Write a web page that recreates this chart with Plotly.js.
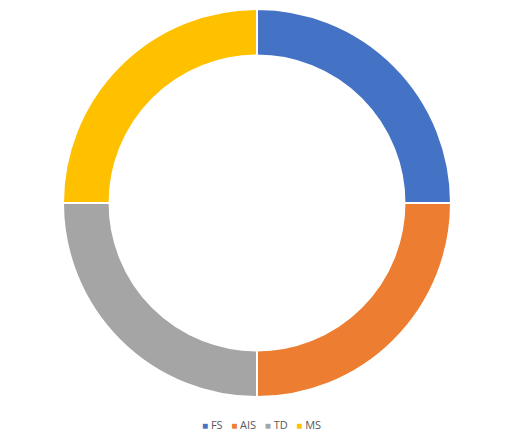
<!DOCTYPE html>
<html>
<head>
<meta charset="utf-8">
<script src="https://cdn.plot.ly/plotly-3.0.1.min.js"></script>
<style>html,body{margin:0;padding:0;background:#fff;}#chart{width:530px;height:436px;}</style>
</head>
<body>
<div id="chart"></div>
<script>
const categories = ["FS", "AIS", "TD", "MS"];
const values = [25, 25, 25, 25];
const colors = ["#4472C4", "#ED7D31", "#A5A5A5", "#FFC000"];

const trace = {
  type: "pie",
  labels: categories,
  values: values,
  hole: 0.76,
  sort: false,
  direction: "clockwise",
  rotation: 0,
  textinfo: "none",
  hoverinfo: "label+value",
  marker: { colors: colors, line: { color: "#ffffff", width: 2 } }
};

const legendText = categories.map((c, i) =>
  '<span style="color:' + colors[i] + ';font-size:10px">■</span> ' + c
).join('\u00a0\u00a0\u00a0');

const layout = {
  width: 530,
  height: 436,
  margin: { l: 0, r: 16, t: 9, b: 39 },
  paper_bgcolor: "#ffffff",
  showlegend: false,
  annotations: [{
    xref: "paper",
    yref: "paper",
    x: 261 / 514,
    y: -27 / 388,
    xanchor: "center",
    yanchor: "middle",
    showarrow: false,
    text: legendText,
    font: { family: "Open Sans, Liberation Sans, sans-serif", size: 11, color: "#595959" }
  }]
};

Plotly.newPlot("chart", [trace], layout, { displayModeBar: false, staticPlot: true });
</script>
</body>
</html>
